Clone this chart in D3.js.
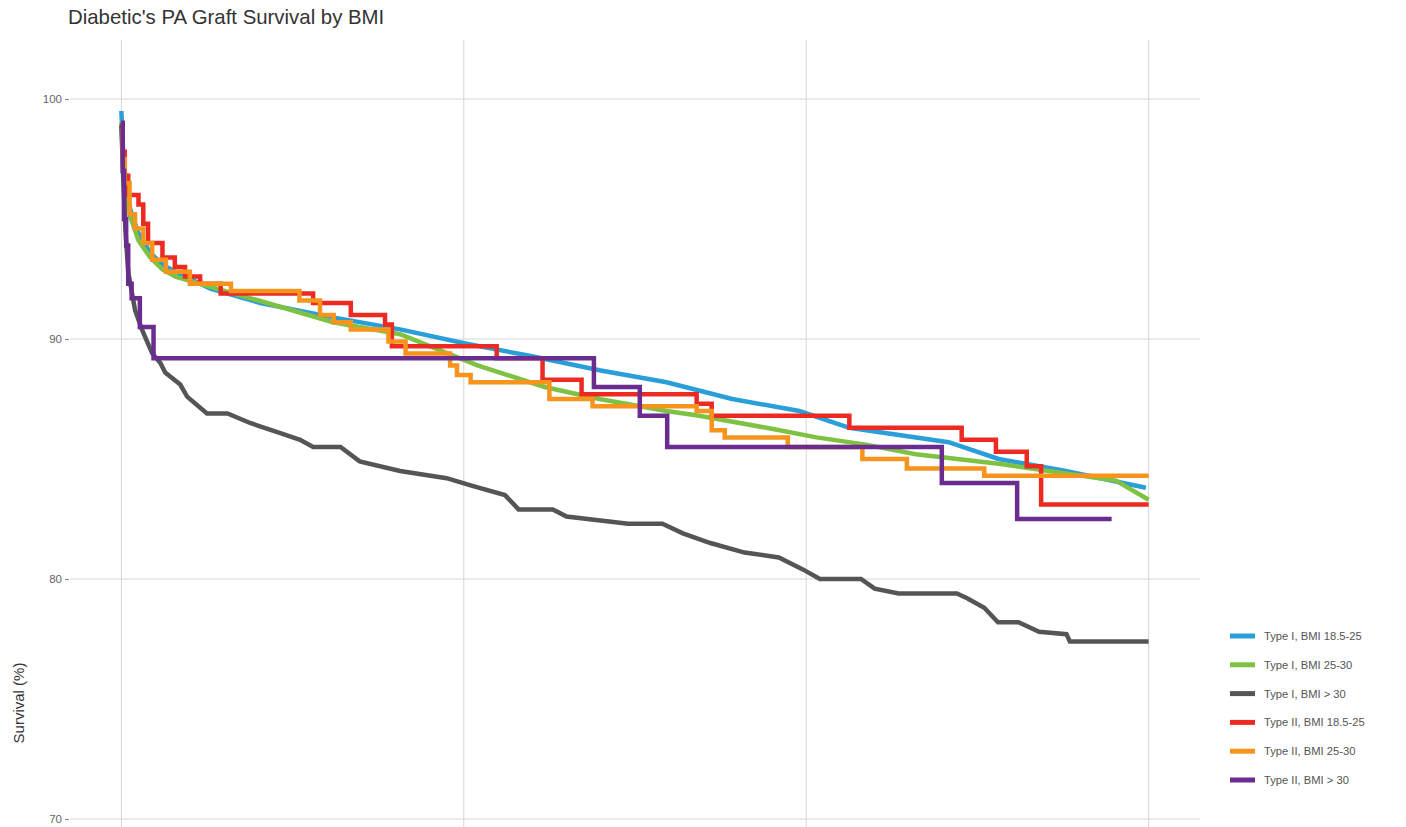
<!DOCTYPE html>
<html>
<head>
<meta charset="utf-8">
<script src="https://cdn.jsdelivr.net/npm/d3@7/dist/d3.min.js"></script>
<style>
  html, body { margin: 0; padding: 0; background: #fff; overflow: hidden; }
  svg { display: block; }
  text { font-family: "Liberation Sans", Arial, Helvetica, sans-serif; }
</style>
</head>
<body>
<svg id="chart" width="1406" height="827"></svg>
<script>
// Kaplan-Meier style graft survival (years since transplant, survival %)
const seriesNames = [
  "Type I, BMI 18.5-25",
  "Type I, BMI 25-30",
  "Type I, BMI > 30",
  "Type II, BMI 18.5-25",
  "Type II, BMI 25-30",
  "Type II, BMI > 30"
];

const type1Bmi18 = [
  [0, 99.5], [0.03, 97.6], [0.07, 96.4], [0.13, 95.4], [0.25, 94.4], [0.42, 93.6], [0.6, 93.1], [0.79, 92.8],
  [1.3, 92.1], [2.03, 91.5], [3.09, 90.9], [4.07, 90.4], [5.04, 89.8], [5.96, 89.3],
  [6.98, 88.7], [7.96, 88.2], [8.92, 87.5], [9.9, 87.0], [10.63, 86.3], [12.08, 85.7],
  [12.81, 85.0], [13.79, 84.5], [14.96, 83.8]
];

const type1Bmi25 = [
  [0, 99.0], [0.03, 97.2], [0.07, 96.0], [0.13, 95.1], [0.25, 94.1], [0.42, 93.4], [0.6, 92.9], [0.79, 92.6],
  [1.15, 92.3], [2.13, 91.5], [3.09, 90.7], [4.07, 90.2], [5.2, 88.9], [6.18, 88.0],
  [6.98, 87.5], [7.96, 87.0], [8.44, 86.8], [9.42, 86.3], [10.15, 85.9], [10.87, 85.6],
  [11.6, 85.2], [12.81, 84.8], [13.79, 84.4], [14.52, 84.1], [15.0, 83.3]
];

const type1Bmi30 = [
  [0, 98.9], [0.03, 96.5], [0.06, 94.5], [0.1, 92.8], [0.2, 91.2], [0.3, 90.4], [0.45, 89.4],
  [0.57, 89.0], [0.64, 88.6], [0.86, 88.1], [0.96, 87.6], [1.25, 86.9], [1.55, 86.9],
  [1.88, 86.5], [2.3, 86.1], [2.61, 85.8], [2.8, 85.5], [3.2, 85.5], [3.48, 84.9],
  [4.07, 84.5], [4.75, 84.2], [5.1, 83.9], [5.6, 83.5], [5.8, 82.9], [6.3, 82.9],
  [6.5, 82.6], [7.4, 82.3], [7.9, 82.3], [8.2, 81.9], [8.6, 81.5], [9.1, 81.1],
  [9.6, 80.9], [9.95, 80.4], [10.2, 80.0], [10.8, 80.0], [11.0, 79.6], [11.35, 79.4],
  [12.2, 79.4], [12.35, 79.2], [12.6, 78.8], [12.8, 78.2], [13.1, 78.2], [13.4, 77.8],
  [13.8, 77.7], [13.85, 77.4], [15.0, 77.4]
];

const type2Bmi18 = [
  [0, 99.0], [0.02, 97.8], [0.05, 96.8], [0.1, 96.0], [0.25, 95.6], [0.32, 94.8], [0.39, 94.0],
  [0.6, 93.4], [0.78, 93.0], [0.93, 92.6], [1.15, 92.3], [1.45, 91.9], [2.8, 91.5],
  [3.35, 91.0], [3.85, 90.6], [3.95, 89.7], [5.48, 89.2], [6.15, 88.3], [6.72, 87.7],
  [8.4, 87.3], [8.62, 86.8], [10.63, 86.3], [12.27, 85.8], [12.77, 85.3], [13.22, 84.7],
  [13.43, 83.1], [15.0, 83.1]
];

const type2Bmi25 = [
  [0, 98.8], [0.02, 97.5], [0.05, 96.5], [0.12, 95.2], [0.2, 94.6], [0.32, 94.0], [0.45, 93.3], [0.65, 92.8],
  [1.0, 92.3], [1.6, 92.0], [2.6, 91.6], [2.9, 91.0], [3.1, 90.7], [3.35, 90.4],
  [3.9, 89.9], [4.15, 89.4], [4.8, 88.9], [4.9, 88.5], [5.1, 88.2], [6.25, 87.5],
  [6.88, 87.2], [8.4, 87.0], [8.62, 86.2], [8.81, 85.9], [9.73, 85.5], [10.82, 85.0],
  [11.47, 84.6], [12.6, 84.3], [15.0, 84.3]
];

const type2Bmi30 = [
  [0, 99.0], [0.02, 97.0], [0.04, 95.0], [0.07, 93.9], [0.1, 92.3], [0.15, 91.7],
  [0.27, 90.5], [0.47, 89.2], [6.9, 88.0], [7.57, 86.8], [7.97, 85.5], [11.98, 84.0],
  [13.08, 82.5], [14.46, 82.5]
];

const yTicks = [70, 80, 90, 100];
const xTicks = [0, 5, 10, 15];

const seriesData = [type1Bmi18, type1Bmi25, type1Bmi30, type2Bmi18, type2Bmi25, type2Bmi30];
const seriesColors = ["#2a9ed8", "#7fc243", "#555555", "#ec2a22", "#f7941e", "#6a2c8f"];

const svg = d3.select("#chart");

const panel = { left: 70, right: 1200, top: 40, bottom: 827 };
const x = d3.scaleLinear().domain([-0.75, 15.75]).range([panel.left, panel.right]);
const y = d3.scaleLinear().domain([70, 100]).range([819, 99]);

// subtitle
svg.append("text")
  .attr("x", 68).attr("y", 24)
  .attr("font-size", 20.4)
  .attr("fill", "#333")
  .text("Diabetic's PA Graft Survival by BMI");

// gridlines
const grid = svg.append("g").attr("stroke", "#d6d6d6").attr("stroke-width", 1);
grid.selectAll("line.h").data(yTicks).join("line")
  .attr("class", "h")
  .attr("x1", panel.left).attr("x2", panel.right)
  .attr("y1", d => y(d)).attr("y2", d => y(d));
grid.selectAll("line.v").data(xTicks).join("line")
  .attr("class", "v")
  .attr("x1", d => x(d)).attr("x2", d => x(d))
  .attr("y1", panel.top).attr("y2", panel.bottom);

// y axis
const yAxis = d3.axisLeft(y).tickValues(yTicks).tickSize(4).tickPadding(3);
const yg = svg.append("g").attr("transform", `translate(${panel.left - 1},0)`).call(yAxis);
yg.select(".domain").remove();
yg.selectAll(".tick line").attr("stroke", "#888");
yg.selectAll(".tick text").attr("fill", "#666").attr("font-size", 11.5)
  .attr("font-family", "Liberation Sans, Arial, sans-serif");

svg.append("text")
  .attr("transform", "translate(24,703) rotate(-90)")
  .attr("text-anchor", "middle")
  .attr("font-size", 15)
  .attr("fill", "#333")
  .text("Survival (%)");

// survival curves: the dense type I strata read as continuous curves, the rest as steps
const smooth = d3.line().x(d => x(d[0])).y(d => y(d[1])).curve(d3.curveLinear);
const stepped = d3.line().x(d => x(d[0])).y(d => y(d[1])).curve(d3.curveStepAfter);
const curves = svg.append("g").attr("fill", "none").attr("stroke-width", 4.5)
  .attr("stroke-linejoin", "miter");
seriesData.forEach((data, i) => {
  curves.append("path")
    .attr("d", (i < 3 ? smooth : stepped)(data))
    .attr("stroke", seriesColors[i]);
});

// legend
const legend = svg.append("g").attr("transform", "translate(1230,636)");
seriesNames.forEach((name, i) => {
  const g = legend.append("g").attr("transform", `translate(0,${i * 28.8})`);
  g.append("line").attr("x1", 0).attr("x2", 25).attr("y1", 0).attr("y2", 0)
    .attr("stroke", seriesColors[i]).attr("stroke-width", 5);
  g.append("text").attr("x", 34).attr("y", 4).attr("font-size", 11.2)
    .attr("fill", "#555").text(name);
});
</script>
</body>
</html>
